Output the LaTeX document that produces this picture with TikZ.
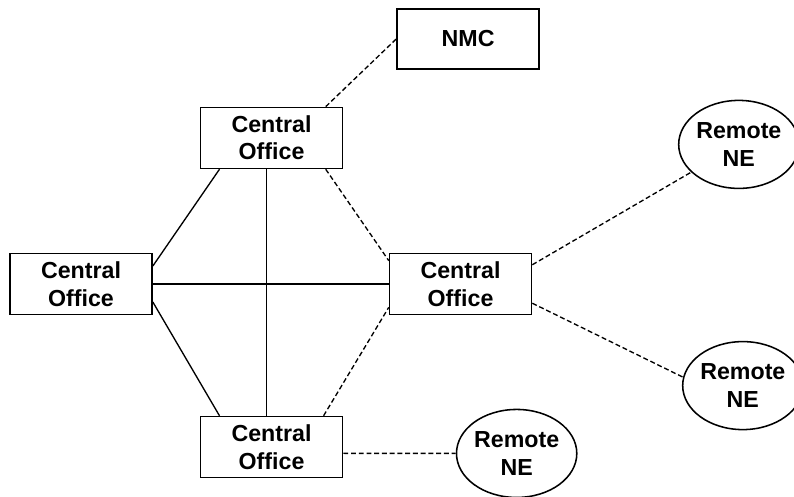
\documentclass[tikz,border=0pt]{standalone}
\usepackage{fontspec}
\setmainfont{Liberation Sans}
\usetikzlibrary{positioning,shapes.geometric}

\begin{document}
\begin{tikzpicture}[
    node distance=1.0cm and 1.0cm,
    box/.style={rectangle, draw, line width=1.1pt, minimum width=3.55cm, minimum height=1.525cm, inner sep=0pt, font=\fontsize{16.5}{19.5}\selectfont\bfseries, align=center},
    remote/.style={ellipse, draw, line width=1.1pt, minimum width=2.95cm, minimum height=2.2cm, inner sep=0pt, font=\fontsize{16.5}{19.5}\selectfont\bfseries, align=center},
    link/.style={line width=0.95pt},
    dashlink/.style={line width=0.95pt, dash pattern=on 3.5pt off 2pt}
  ]
  \useasboundingbox (-2.025,-5.3) rectangle (17.825,7.1);

  % Ring of central offices
  \node[box] (coW) at (0,0) {Central\\Office};
  \node[box, right=5.9cm of coW] (coE) {Central\\Office};
  \node[box, above right=2.0875cm and 1.175cm of coW] (coN) {Central\\Office};
  \node[box, below right=2.5125cm and 1.175cm of coW] (coS) {Central\\Office};

  % Network management centre
  \node[box, minimum height=1.5cm, above right=0.925cm and 1.325cm of coN] (nmc) {NMC};

  % Remote network elements
  \node[remote, right=3.64cm of coE, yshift=3.49cm] (neN) {Remote\\NE};
  \node[remote, right=3.74cm of coE, yshift=-2.54cm] (neM) {Remote\\NE};
  \node[remote, right=2.81cm of coS, yshift=-0.16cm] (neS) {Remote\\NE};

  % Solid links
  \draw[link] (coW.14) -- (coN.211);
  \draw[link] (coW.346) -- (coS.149);
  \draw[link] (coN.261) -- (coS.99);
  \draw[link] (coW.east) -- (coE.west);

  % Dashed links
  \draw[dashlink] (coN.30) -- (nmc.west);
  \draw[dashlink] (coN.330) -- (coE.162);
  \draw[dashlink] (coS.31) -- (coE.198);
  \draw[dashlink] (coE.15) -- (neN);
  \draw[dashlink] (coE.345) -- (neM.172);
  \draw[dashlink] (coS.-5) -- (neS);

\end{tikzpicture}
\end{document}
